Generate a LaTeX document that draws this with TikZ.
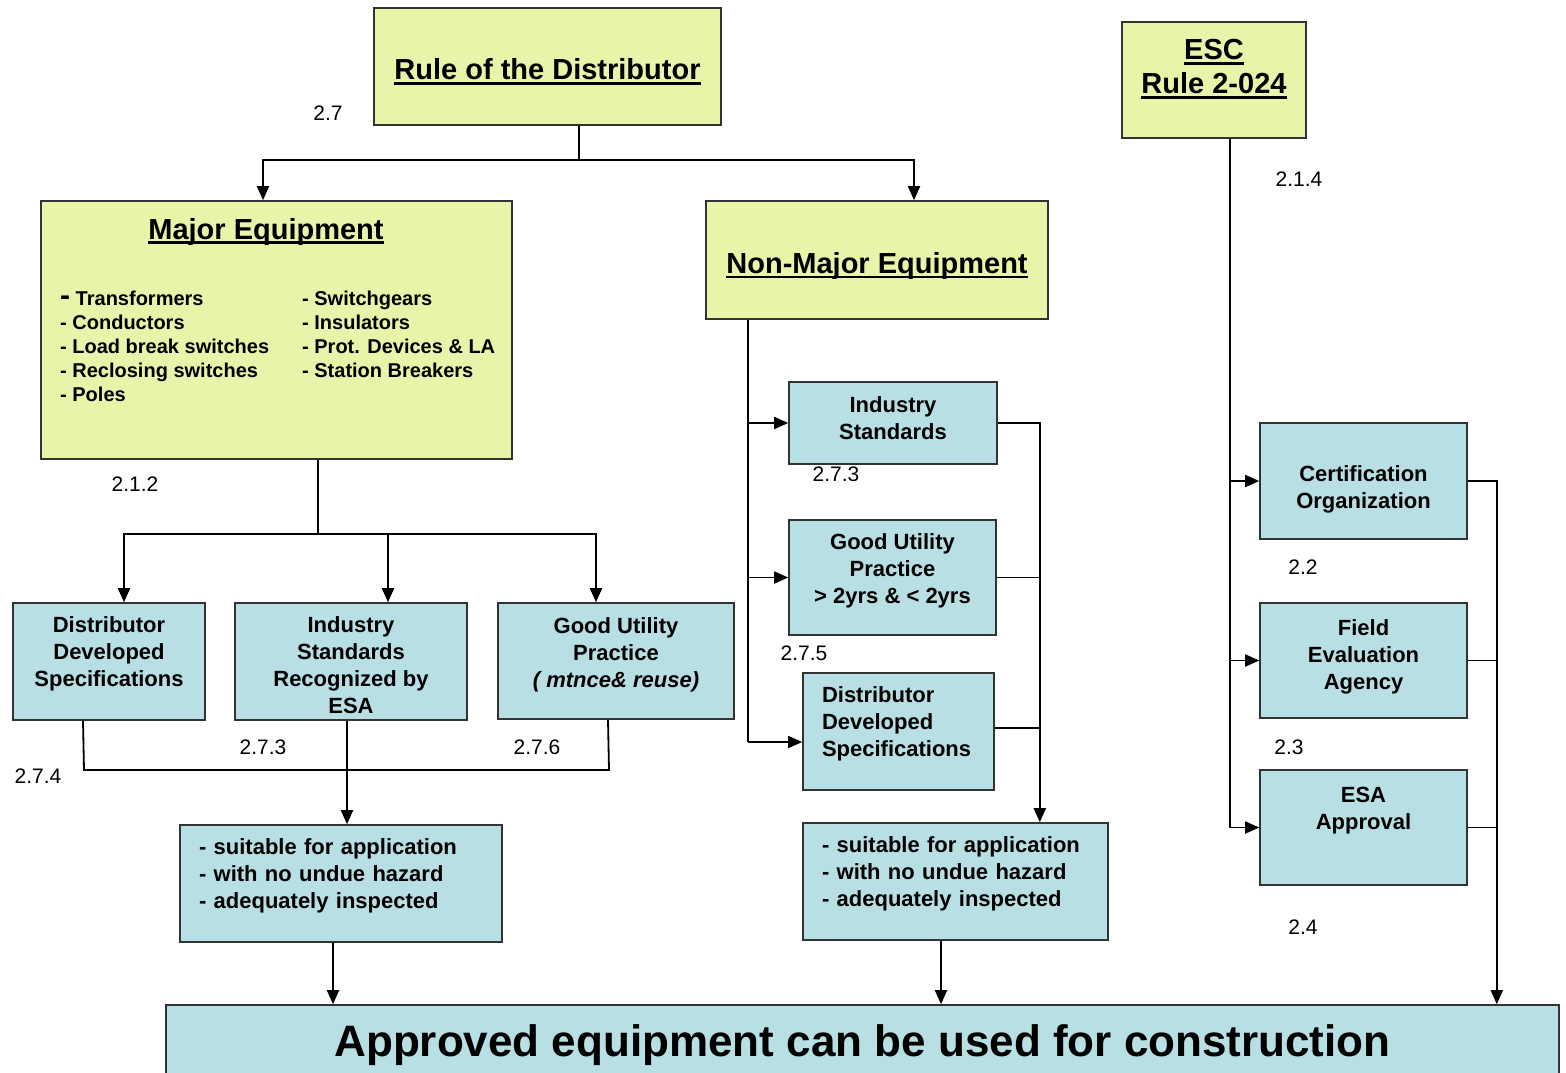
\documentclass[tikz,border=0pt]{standalone}
\usepackage{fontspec}
\setmainfont{Liberation Sans}
\usetikzlibrary{arrows.meta}

\definecolor{headfill}{RGB}{233,243,170}
\definecolor{stdfill}{RGB}{184,223,227}
\newcommand\uln[1]{\setbox0\hbox{#1}\rlap{\rule[-5pt]{\wd0}{2.6pt}}\box0}

\begin{document}
\begin{tikzpicture}[x=1pt, y=-1pt,
      headbox/.style = {draw=black!80, line width=1.6pt, fill=headfill,
        inner sep=0pt, align=center, font=\bfseries\fontsize{29}{34}\selectfont},
      stdbox/.style = {draw=black!80, line width=1.6pt, fill=stdfill,
        inner sep=0pt, align=center, font=\bfseries\fontsize{22}{27}\selectfont},
      critbox/.style = {stdbox, align=left, inner xsep=19pt},
      itemlist/.style = {align=left, inner sep=0pt, anchor=north west,
        font=\bfseries\fontsize{20}{24}\selectfont},
      secnum/.style = {inner sep=0pt, font=\fontsize{21}{25}\selectfont},
      link/.style = {line width=1.8pt},
      feed/.style = {link, -{Triangle[length=14pt, width=12pt]}}]
  \useasboundingbox (0,0) rectangle (1566,1072);

  % top level
  \node[headbox, minimum width=347pt, minimum height=117pt, text height=31pt] (rule)
    at (547.5,66.5) {\uln{Rule of the Distributor}};
  \node[headbox, minimum width=184pt, minimum height=116pt, text depth=27pt] (esc)
    at (1214,80) {\uln{ESC}\\\uln{Rule 2-024}};

  % major equipment
  \node[headbox, minimum width=471pt, minimum height=258pt] (major) at (276.5,330) {};
  \node[font=\bfseries\fontsize{29}{34}\selectfont, inner sep=0pt, anchor=base]
    (majortitle) at (266,239) {\uln{Major Equipment}};
  \node[itemlist] (majorlistA) at (60,290.5)
    {{\fontsize{30}{24}\selectfont -} Transformers\\- Conductors\\- Load break switches\\- Reclosing switches\\- Poles};
  \node[itemlist] (majorlistB) at (302,290.5)
    {- Switchgears\\- Insulators\\- Prot. Devices \& LA\\- Station Breakers};

  \node[headbox, minimum width=342pt, minimum height=118pt, text height=33pt] (nonmajor)
    at (877,260) {\uln{Non-Major Equipment}};

  % left branch
  \node[stdbox, minimum width=192pt, minimum height=117pt, text depth=20pt] (dds)
    at (109,661.5) {Distributor\\Developed\\Specifications};
  \node[stdbox, minimum width=232pt, minimum height=117pt, text height=105pt] (isr)
    at (351,661.5) {Industry\\Standards\\Recognized by\\ESA};
  \node[stdbox, minimum width=236pt, minimum height=116pt, text depth=17.6pt] (gup)
    at (616,661) {Good Utility\\Practice\\{\itshape ( mtnce\& reuse)}};
  \node[critbox, text width=284pt, minimum height=117pt, text depth=73.6pt] (critL)
    at (341,883.5) {- suitable for application\\- with no undue hazard\\- adequately inspected};

  % middle branch
  \node[stdbox, minimum width=208pt, minimum height=82pt, text depth=10.6pt] (is2)
    at (893,423) {Industry\\Standards};
  \node[stdbox, minimum width=207pt, minimum height=115pt, text depth=17.6pt] (gup2)
    at (892.5,577.5) {Good Utility\\Practice\\> 2yrs \& < 2yrs};
  \node[critbox, text width=153pt, minimum height=117pt, text depth=74.6pt] (dds2)
    at (898.5,731.5) {Distributor\\Developed\\Specifications};
  \node[critbox, text width=267pt, minimum height=117pt, text depth=73.6pt] (critR)
    at (955.5,881.5) {- suitable for application\\- with no undue hazard\\- adequately inspected};

  % right branch
  \node[stdbox, minimum width=207pt, minimum height=116pt, text height=59pt] (cert)
    at (1363.5,481) {Certification\\Organization};
  \node[stdbox, minimum width=207pt, minimum height=115pt, text depth=12.6pt] (fea)
    at (1363.5,660.5) {Field\\Evaluation\\Agency};
  \node[stdbox, minimum width=207pt, minimum height=115pt, text depth=38pt] (esa)
    at (1363.5,827.5) {ESA\\Approval};

  \node[stdbox, minimum width=1393pt, minimum height=80pt,
    font=\bfseries\fontsize{44}{50}\selectfont] (final) at (862.5,1045)
    {Approved equipment can be used for construction};

  % section numbers
  \node[secnum] (s27) at (328,113) {2.7};
  \node[secnum] (s212) at (135,484) {2.1.2};
  \node[secnum] (s274) at (38,776) {2.7.4};
  \node[secnum] (s273a) at (263,747) {2.7.3};
  \node[secnum] (s276) at (537,747) {2.7.6};
  \node[secnum] (s273b) at (836,474) {2.7.3};
  \node[secnum] (s275) at (804,653) {2.7.5};
  \node[secnum] (s214) at (1299,179) {2.1.4};
  \node[secnum] (s22) at (1303,567) {2.2};
  \node[secnum] (s23) at (1289,747) {2.3};
  \node[secnum] (s24) at (1303,927) {2.4};

  % connectors from the distributor rule
  \coordinate (rulefork) at (579,160);
  \draw[link] (rule.south -| rulefork) -- (rulefork);
  \draw[feed] (rulefork) -| ([xshift=-13.5pt]major.north);
  \draw[feed] (rulefork) -| ([xshift=37pt]nonmajor.north);

  % major equipment tree
  \coordinate (majorfork) at (318,534);
  \draw[link] (major.south -| majorfork) -- (majorfork);
  \draw[feed] (majorfork) -| ([xshift=15pt]dds.north);
  \draw[feed] (majorfork) -| ([xshift=37pt]isr.north);
  \draw[feed] (majorfork) -| ([xshift=-20pt]gup.north);
  \coordinate (mergeL) at (84,770);
  \coordinate (mergeR) at (609,770);
  \draw[link] ([xshift=-26pt]dds.south) -- (mergeL) -- (mergeR) -- ([xshift=-8pt]gup.south);
  \draw[feed] ([xshift=-4pt]isr.south) -- ([xshift=6pt]critL.north);
  \coordinate (critLout) at ([xshift=-8pt]critL.south);
  \draw[feed] (critLout) -- (critLout |- final.north);

  % non-major equipment tree
  \coordinate (nmspine) at ([yshift=-10.5pt]dds2.west -| 748,0);
  \draw[link] (nonmajor.south -| nmspine) -- (nmspine);
  \draw[feed] (is2.west -| nmspine) -- (is2.west);
  \draw[feed] (gup2.west -| nmspine) -- (gup2.west);
  \draw[feed] (nmspine) -- (nmspine -| dds2.west);
  \draw[feed] (is2.east) -- ++(42,0) coordinate (nmbus) -- (nmbus |- critR.north);
  \draw[link] (gup2.east) -- (gup2.east -| nmbus);
  \draw[link] ([yshift=3.5pt]dds2.east) -- ([yshift=3.5pt]dds2.east -| nmbus);
  \coordinate (critRout) at ([xshift=-14.5pt]critR.south);
  \draw[feed] (critRout) -- (critRout |- final.north);

  % ESC tree
  \coordinate (escspine) at ([xshift=16pt]esc.south);
  \draw[link] (escspine) -- (escspine |- esa.west);
  \draw[feed] (escspine |- cert.west) -- (cert.west);
  \draw[feed] (escspine |- fea.west) -- (fea.west);
  \draw[feed] (escspine |- esa.west) -- (esa.west);
  \draw[feed] (cert.east) -- ++(29,0) coordinate (escbus) -- (escbus |- final.north);
  \draw[link] (fea.east) -- (fea.east -| escbus);
  \draw[link] (esa.east) -- (esa.east -| escbus);
\end{tikzpicture}
\end{document}
